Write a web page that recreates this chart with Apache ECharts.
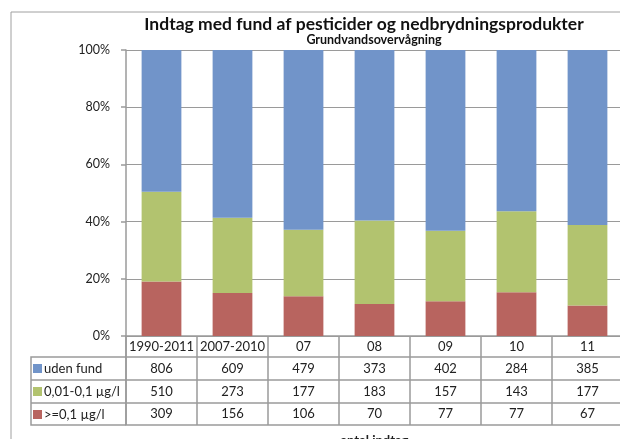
<!DOCTYPE html>
<html>
<head>
<meta charset="utf-8">
<script src="https://cdn.jsdelivr.net/npm/echarts@6/dist/echarts.min.js"></script>
<style>
  html, body { margin: 0; padding: 0; background: #fff; }
  #chart { width: 620px; height: 439px; }
</style>
</head>
<body>
<div id="chart"></div>
<script>
// kategorier og antal indtag
const categories = ['1990-2011', '2007-2010', '07', '08', '09', '10', '11']
const udenFund = [806, 609, 479, 373, 402, 284, 385]
const lavFund = [510, 273, 177, 183, 157, 143, 177]
const hoejFund = [309, 156, 106, 70, 77, 77, 67]
const seriesNames = ['uden fund', '0,01-0,1 µg/l', '>=0,1 µg/l']
const colors = ['#7194c9', '#b2c36f', '#b8645f']

// andel i procent af alle indtag
const totals = categories.map((c, i) => udenFund[i] + lavFund[i] + hoejFund[i])
const pct = arr => arr.map((v, i) => v / totals[i] * 100)

const font = 'Lato, "Open Sans", sans-serif'
const lineColor = '#9a9a9a'

// tabelrækker lavet som ekstra x-akser under plottet
const rowOffsets = [0, 21, 44, 67]
const rowHeights = [21, 23, 23, 22]
const rowValues = [categories, udenFund, lavFund, hoejFund]

const tableAxes = rowOffsets.map((off, r) => ({
  type: 'category',
  data: categories,
  position: 'bottom',
  offset: off,
  axisLine: { show: true, lineStyle: { color: lineColor, width: 1.5 } },
  axisTick: { show: true, length: rowHeights[r], lineStyle: { color: lineColor, width: 1.5 } },
  axisLabel: {
    interval: 0,
    margin: rowHeights[r] / 2,
    verticalAlign: 'middle',
    color: '#222',
    fontSize: 13,
    fontFamily: font,
    formatter: (v, i) => String(rowValues[r][i])
  }
}))
tableAxes.push({
  type: 'category',
  data: categories,
  position: 'bottom',
  offset: 89,
  axisLine: { show: true, lineStyle: { color: lineColor, width: 1.5 } },
  axisTick: { show: false },
  axisLabel: { show: false },
  name: 'antal indtag',
  nameLocation: 'middle',
  nameGap: 9,
  nameTextStyle: { color: '#222', fontSize: 13, fontWeight: 'bold', fontFamily: font }
})

const chart = echarts.init(document.getElementById('chart'))
chart.setOption({
  animation: false,
  legend: {
    orient: 'vertical',
    left: 33,
    top: 361,
    padding: 0,
    itemWidth: 9,
    itemHeight: 9,
    itemGap: 8,
    icon: 'rect',
    data: seriesNames,
    textStyle: { fontSize: 13, color: '#222', fontFamily: font, lineHeight: 15, padding: [0, 0, 0, -3] },
    selectedMode: false
  },
  grid: { left: 126, top: 50, width: 497, height: 286, containLabel: false, outerBoundsMode: 'none' },
  xAxis: tableAxes,
  yAxis: {
    type: 'value',
    min: 0,
    max: 100,
    interval: 20,
    axisLine: { show: true, lineStyle: { color: lineColor, width: 1.5 } },
    axisTick: { show: true, length: 5, lineStyle: { color: lineColor, width: 1.5 } },
    splitLine: { lineStyle: { color: lineColor, width: 1.2 } },
    axisLabel: { formatter: '{value}%', color: '#222', fontSize: 12.5, fontFamily: font, margin: 16 }
  },
  series: [
    { name: seriesNames[2], data: pct(hoejFund), color: colors[2] },
    { name: seriesNames[1], data: pct(lavFund), color: colors[1] },
    { name: seriesNames[0], data: pct(udenFund), color: colors[0] }
  ].map(s => Object.assign({ type: 'bar', stack: 'andel', barWidth: '56%' }, s)),
  graphic: [
    { type: 'rect', shape: { x: 11, y: 12, width: 700, height: 500 }, style: { fill: 'none', stroke: '#a0a0a0', lineWidth: 1 }, z: -1 },
    { type: 'text', x: 364, y: 24, style: { text: 'Indtag med fund af pesticider og nedbrydningsprodukter', align: 'center', verticalAlign: 'middle', fill: '#111', font: 'bold 17.5px ' + font } },
    { type: 'text', x: 374, y: 40, style: { text: 'Grundvandsovervågning', align: 'center', verticalAlign: 'middle', fill: '#111', font: 'bold 12.5px ' + font } },
    // venstre kolonne i tabellen
    { type: 'polyline', shape: { points: [[126, 357], [31, 357], [31, 425], [126, 425]] }, style: { fill: 'none', stroke: lineColor, lineWidth: 1.5 } },
    { type: 'line', shape: { x1: 31, y1: 380, x2: 126, y2: 380 }, style: { stroke: lineColor, lineWidth: 1.5 } },
    { type: 'line', shape: { x1: 31, y1: 403, x2: 126, y2: 403 }, style: { stroke: lineColor, lineWidth: 1.5 } },
    { type: 'line', shape: { x1: 126, y1: 336, x2: 126, y2: 425 }, style: { stroke: lineColor, lineWidth: 1.5 } }
  ]
})
</script>
</body>
</html>
